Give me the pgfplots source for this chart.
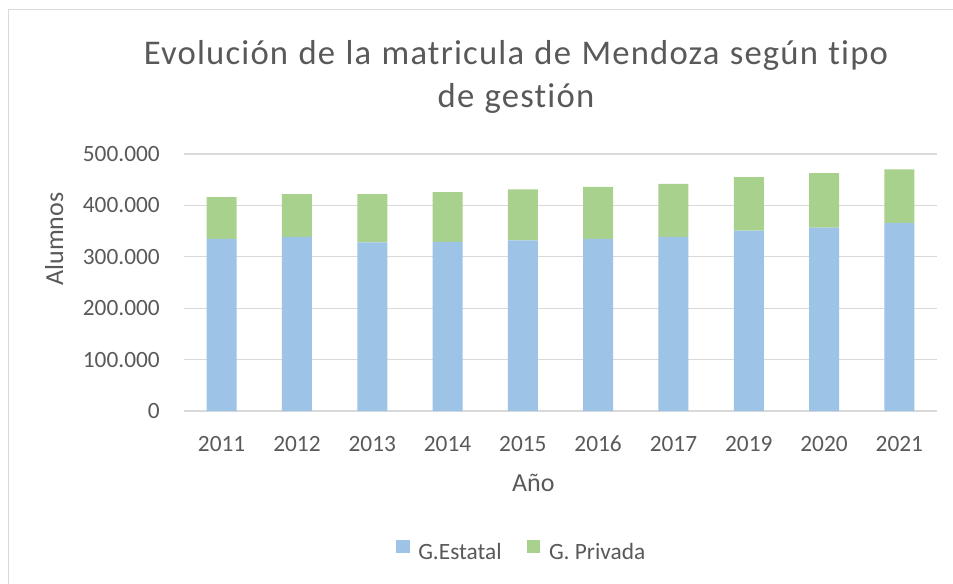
\documentclass[border=0pt]{standalone}
\usepackage{pgfplots}
\pgfplotsset{compat=1.18}
\usepackage{fontspec}
\setmainfont{Carlito}
\newfontfamily\titlefont[LetterSpace=3.4,WordSpace=1.15,Ligatures=NoCommon]{Carlito}
\definecolor{txt}{HTML}{595959}
\definecolor{gridc}{HTML}{D9D9D9}
\definecolor{cest}{HTML}{9DC3E6}
\definecolor{cpri}{HTML}{A9D18E}
\begin{document}
\begin{tikzpicture}
\useasboundingbox (0,0) rectangle (714.75pt,-438pt);
\draw[gridc, line width=0.8pt] (6.5pt,-7.2pt) rectangle (730pt,-450pt);
\node[anchor=base, text=txt, font=\titlefont\fontsize{26}{31}\selectfont] at (387pt,-48.75pt) {Evolución de la matricula de Mendoza según tipo};
\node[anchor=base, text=txt, font=\titlefont\fontsize{26}{31}\selectfont] at (387pt,-80.5pt) {de gestión};
\begin{axis}[
  at={(138pt,-308.25pt)}, anchor=south west,
  width=564.75pt, height=192.75pt, scale only axis,
  ybar stacked, bar width=22.5pt,
  xmin=-0.5, xmax=9.5,
  ymin=0, ymax=500000,
  xtick={0,...,9},
  xticklabels={2011,2012,2013,2014,2015,2016,2017,2019,2020,2021},
  ytick={0,100000,200000,300000,400000,500000},
  scaled y ticks=false,
  /pgf/number format/.cd, fixed, precision=0, 1000 sep={.}, assume math mode=true, /pgfplots/.cd,
  ymajorgrids, grid style={gridc, line width=0.8pt},
  axis line style={draw=none},
  major tick length=0pt,
  tick style={draw=none},
  ticklabel style={text=txt, font=\fontsize{17.5}{21}\selectfont},
  yticklabel style={anchor=east, inner sep=0pt, xshift=-18pt},
  xticklabel style={anchor=north, inner sep=0pt, yshift=-18.5pt},
  legend style={draw=none, at={(0.449,-0.549)}, anchor=center,
    legend columns=2, text=txt, font=\fontsize{17.5}{21}\selectfont,
    /tikz/every odd column/.append style={column sep=4.5pt},
    /tikz/every even column/.append style={column sep=17pt},
    inner sep=0pt},
  legend image code/.code={\fill[#1] (0pt,-0.3pt) rectangle (10pt,9.7pt);},
]
\addplot[fill=cest, draw=none] coordinates {(0,335000) (1,339000) (2,328000) (3,329000) (4,332000) (5,335000) (6,339000) (7,351000) (8,357000) (9,366000)};
\addplot[fill=cpri, draw=none] coordinates {(0,81000) (1,83000) (2,94000) (3,97000) (4,99000) (5,101000) (6,103000) (7,104000) (8,106000) (9,104000)};
\legend{G.Estatal, G. Privada}
\end{axis}
\node[anchor=base, rotate=90, text=txt, font=\fontsize{19.5}{23}\selectfont] at (47.25pt,-179.25pt) {Alumnos};
\node[anchor=base, text=txt, font=\fontsize{19.5}{23}\selectfont] at (400pt,-368.75pt) {Año};
\end{tikzpicture}
\end{document}
